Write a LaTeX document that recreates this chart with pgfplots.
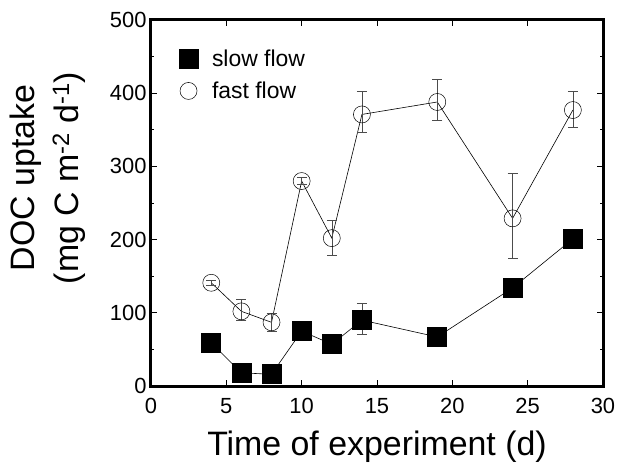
\documentclass[border=0pt]{standalone}
\usepackage{fontspec}
\setmainfont{Liberation Sans}
\usepackage{pgfplots}
\pgfplotsset{compat=1.18}

\begin{document}
\begin{tikzpicture}
\begin{axis}[
  name=ax,
  scale only axis,
  width=452bp,height=366bp,
  xmin=0,xmax=30,ymin=0,ymax=500,
  xtick={0,5,...,30},ytick={0,100,...,500},
  minor y tick num=1,
  tick align=inside,
  major tick length=6bp,minor tick length=3bp,
  tick style={black,line width=0.8bp},
  axis line style={line width=3bp},
  /pgf/number format/assume math mode=true,
  tick label style={font=\fontsize{22}{26}\selectfont},
  xticklabel style={yshift=-9bp},
  yticklabel style={xshift=-1bp},
  label style={font=\fontsize{34}{44}\selectfont},
  xlabel={Time of experiment (d)},
  xlabel style={yshift=-10bp},
  ylabel={DOC uptake\\(mg C m\textsuperscript{-2} d\textsuperscript{-1})},
  ylabel style={align=center,yshift=18bp,xshift=25bp},
  legend style={draw=none,fill=none,at={(0.055,0.93)},anchor=north west,
    font=\fontsize{23}{27}\selectfont,row sep=10bp,
    /tikz/every odd column/.append style={column sep=12bp}},
  legend cell align=left,
  clip=false,
]
\addlegendimage{only marks,mark=square*,mark size=9.5bp,black}
\addlegendentry{slow flow}
\addlegendimage{only marks,mark=o,mark size=8.5bp,black,line width=0.5bp}
\addlegendentry{fast flow}

% fast flow
\addplot[black,line width=0.6bp,mark=o,mark size=8.5bp,
  mark options={line width=0.5bp},
  error bars/.cd,y dir=both,y explicit,
  error bar style={line width=0.5bp,black!70},
  error mark options={rotate=90,mark size=5bp,line width=0.5bp,black!70}]
  table[x=x,y=y,y error plus=ep,y error minus=em] {
x y ep em
4 141 3 3
6 102 17 12
8 87 13 12
10 280 5 5
12 202 25 23
14 371 32 24
19 388 31 25
24 229 61 54
28 377 26 23
};

% slow flow
\addplot[black,line width=0.6bp,mark=square*,mark size=9.5bp,
  error bars/.cd,y dir=both,y explicit,
  error bar style={line width=0.5bp,black!70},
  error mark options={rotate=90,mark size=5bp,line width=0.5bp,black!70}]
  table[x=x,y=y,y error plus=ep,y error minus=em] {
x y ep em
4 59 0 0
6 18 0 0
8 16 0 0
10 75 0 0
12 57 0 0
14 90 23 19
19 67 0 0
24 134 0 0
28 201 0 0
};
\end{axis}
\path ([xshift=-151bp,yshift=-88bp]ax.south west) rectangle ([xshift=16bp,yshift=20bp]ax.north east);
\end{tikzpicture}
\end{document}
